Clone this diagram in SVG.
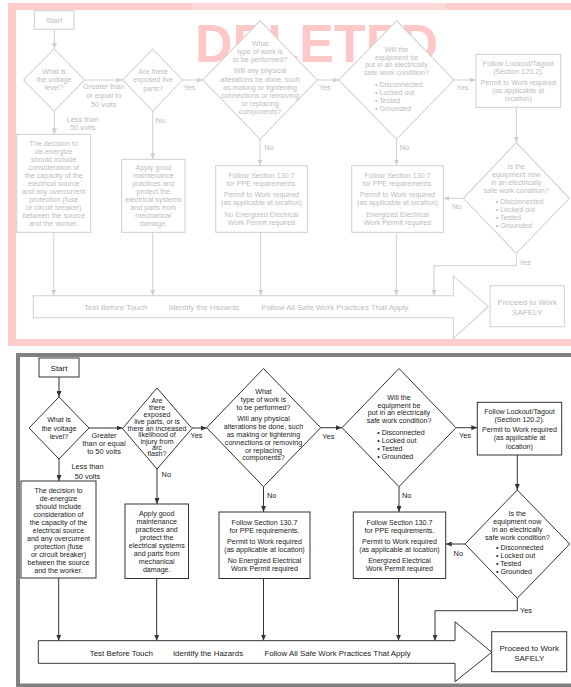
<svg xmlns="http://www.w3.org/2000/svg" width="571" height="687" viewBox="0 0 571 687">
<style>
.ln{fill:none;stroke:#333;stroke-width:1}
.bx{fill:#fff;stroke:#333;stroke-width:1}
.t{font-family:"Liberation Sans",Arial,Helvetica,sans-serif;font-size:7.1px;fill:#1a1a1a;text-anchor:middle}
.tl{text-anchor:start}
.lb{font-size:7.4px}
.big{font-size:7.9px}
.st{font-size:8px}
.old .ln{stroke:#cfcfcf}
.old .bx{stroke:#cfcfcf}
.old .t{fill:#bcbcbc}
</style>
<defs>
<marker id="ah" markerUnits="userSpaceOnUse" markerWidth="6" markerHeight="5" refX="6" refY="2.5" orient="auto"><path d="M0,0 L6,2.5 L0,5 Z" fill="#333"/></marker>
<marker id="ahOld" markerUnits="userSpaceOnUse" markerWidth="6" markerHeight="5" refX="6" refY="2.5" orient="auto"><path d="M0,0 L6,2.5 L0,5 Z" fill="#cfcfcf"/></marker>
</defs>
<rect width="571" height="687" fill="#fff"/>

<!-- DELETED overlay frame -->
<g id="deleted-frame">
<rect x="8" y="3" width="563" height="7" fill="#ffcccc"/>
<rect x="192" y="3" width="254" height="7" fill="#ffd9d9"/>
<rect x="8" y="3" width="8" height="343" fill="#ffcccc"/>
<rect x="8" y="339" width="563" height="7" fill="#ffcccc"/>
<text x="195" y="62" font-family="'Liberation Sans',Arial,sans-serif" font-weight="bold" font-size="54" fill="#ffc8c8" textLength="243" lengthAdjust="spacingAndGlyphs">DELETED</text>
</g>

<!-- Old (deleted) version -->
<g class="old" transform="matrix(1.006 0 0 1 -4.5 -347.5)">
<g id="old-connectors">
<path class="ln" d="M58.5,376.8 V396.5" marker-end="url(#ahOld)"/>
<path class="ln" d="M88.5,427.5 H126" marker-end="url(#ahOld)"/>
<path class="ln" d="M186,427.5 H206.2" marker-end="url(#ahOld)"/>
<path class="ln" d="M58.5,458.5 V481.8" marker-end="url(#ahOld)"/>
<path class="ln" d="M156.3,458.5 V506.8" marker-end="url(#ahOld)"/>
<path class="ln" d="M319.7,427.5 H341.4" marker-end="url(#ahOld)"/>
<path class="ln" d="M263,486.8 V513.2" marker-end="url(#ahOld)"/>
<path class="ln" d="M455.8,427.5 H477.6" marker-end="url(#ahOld)"/>
<path class="ln" d="M398.6,486.8 V513.2" marker-end="url(#ahOld)"/>
<path class="ln" d="M517.7,454.8 V490.2" marker-end="url(#ahOld)"/>
<path class="ln" d="M465,545.8 H445.2" marker-end="url(#ahOld)"/>
<path class="ln" d="M517.7,600.8 V613.2 H435.9 V643.2" marker-end="url(#ahOld)"/>
<path class="ln" d="M57.9,579.8 V643.2" marker-end="url(#ahOld)"/>
<path class="ln" d="M156.3,579.8 V643.2" marker-end="url(#ahOld)"/>
<path class="ln" d="M263.6,579.8 V643.2" marker-end="url(#ahOld)"/>
<path class="ln" d="M398.4,579.8 V643.2" marker-end="url(#ahOld)"/>
<text class="t lb"><tspan x="107.6" y="437">Greater than</tspan><tspan x="107.6" y="446">or equal to</tspan><tspan x="107.6" y="455">50 volts</tspan></text>
<text class="t lb"><tspan x="86.7" y="469.2">Less than</tspan><tspan x="86.7" y="478">50 volts</tspan></text>
<text class="t lb" x="192.6" y="438">Yes</text>
<text class="t lb" x="163.8" y="470.5">No</text>
<text class="t lb" x="327.5" y="438">Yes</text>
<text class="t lb" x="271.9" y="498">No</text>
<text class="t lb" x="464.4" y="438">Yes</text>
<text class="t lb" x="406.5" y="498">No</text>
<text class="t lb" x="458.5" y="556.5">No</text>
<text class="t lb" x="526.3" y="613">Yes</text>
</g>
<g id="old-start"><rect class="bx" x="38.6" y="358.2" width="39.4" height="18.6"/><text class="t st" x="58.3" y="370.3">Start</text></g>
<g id="old-voltage"><polygon class="bx" points="58.2,396.5 88.5,427.5 58.2,458.5 27.9,427.5"/>
<text class="t"><tspan x="58.2" y="421.8">What is</tspan><tspan x="58.2" y="429.8">the voltage</tspan><tspan x="58.2" y="437.8">level?</tspan></text></g>
<g id="old-exposed"><polygon class="bx" points="156.3,396.5 186,427.5 156.3,458.5 126.5,427.5"/>
<text class="t"><tspan x="156.6" y="421.8">Are there</tspan><tspan x="156.6" y="429.8">exposed live</tspan><tspan x="156.6" y="438.3">parts?</tspan></text></g>
<g id="old-deenergize"><rect class="bx" x="21.1" y="481.8" width="73.5" height="98"/>
<text class="t"><tspan x="57.9" y="493.8">The decision to</tspan><tspan x="57.9" y="501.7">de-energize</tspan><tspan x="57.9" y="509.7">should include</tspan><tspan x="57.9" y="517.6">consideration of</tspan><tspan x="57.9" y="525.5">the capacity of the</tspan><tspan x="57.9" y="533.5">electrical source</tspan><tspan x="57.9" y="541.4">and any overcurrent</tspan><tspan x="57.9" y="549.3">protection (fuse</tspan><tspan x="57.9" y="557.2">or circuit breaker)</tspan><tspan x="57.9" y="565.2">between the source</tspan><tspan x="57.9" y="573.1">and the worker.</tspan></text></g>
<g id="old-maintenance"><rect class="bx" x="125.4" y="506.8" width="63" height="73"/>
<text class="t"><tspan x="156.9" y="517.5">Apply good</tspan><tspan x="156.9" y="525.5">maintenance</tspan><tspan x="156.9" y="533.5">practices and</tspan><tspan x="156.9" y="541.5">protect the</tspan><tspan x="156.9" y="549.5">electrical systems</tspan><tspan x="156.9" y="557.5">and parts from</tspan><tspan x="156.9" y="565.5">mechanical</tspan><tspan x="156.9" y="573.5">damage.</tspan></text></g>
<g id="old-worktype"><polygon class="bx" points="263,368.2 319.7,427.5 263,486.8 206.2,427.5"/>
<text class="t"><tspan x="263" y="393.1">What</tspan><tspan x="263" y="401.5">type of work is</tspan><tspan x="263" y="409.8">to be performed?</tspan><tspan x="263" y="420.8">Will any physical</tspan><tspan x="263" y="429.8">alterations be done, such</tspan><tspan x="263" y="437.8">as making or tightening</tspan><tspan x="263" y="445.8">connections or removing</tspan><tspan x="263" y="453.1">or replacing</tspan><tspan x="263" y="461.1">components?</tspan></text></g>
<g id="old-ppe-no-permit"><rect class="bx" x="218.9" y="513.2" width="91.1" height="66.6"/>
<text class="t"><tspan x="264.4" y="525.5">Follow Section 130.7</tspan><tspan x="264.4" y="533.5">for PPE requirements.</tspan><tspan x="264.4" y="544.1">Permit to Work required</tspan><tspan x="264.4" y="552.5">(as applicable at location)</tspan><tspan x="264.4" y="564.1">No Energized Electrical</tspan><tspan x="264.4" y="572.1">Work Permit required</tspan></text></g>
<g id="old-safe-condition"><polygon class="bx" points="398.6,368.2 455.8,427.5 398.6,486.8 341.4,427.5"/>
<text class="t"><tspan x="398.6" y="399.1">Will the</tspan><tspan x="398.6" y="407.1">equipment be</tspan><tspan x="398.6" y="414.8">put in an electrically</tspan><tspan x="398.6" y="422.8">safe work condition?</tspan></text>
<text class="t tl"><tspan x="377.2" y="434.5">• Disconnected</tspan><tspan x="377.2" y="442.1">• Locked out</tspan><tspan x="377.2" y="450.1">• Tested</tspan><tspan x="377.2" y="458.1">• Grounded</tspan></text></g>
<g id="old-lockout"><rect class="bx" x="477.6" y="401.8" width="84.2" height="53"/>
<text class="t"><tspan x="519.7" y="413.1">Follow Lockout/Tagout</tspan><tspan x="519.7" y="421.1">(Section 120.2).</tspan><tspan x="519.7" y="432.8">Permit to Work required</tspan><tspan x="519.7" y="440.5">(as applicable at</tspan><tspan x="519.7" y="448.8">location)</tspan></text></g>
<g id="old-now-safe"><polygon class="bx" points="517.7,490.2 570.4,545.8 517.7,600.8 465,545.8"/>
<text class="t"><tspan x="517.7" y="516.5">Is the</tspan><tspan x="517.7" y="524.5">equipment now</tspan><tspan x="517.7" y="532.5">in an electrically</tspan><tspan x="517.7" y="540.5">safe work condition?</tspan></text>
<text class="t tl"><tspan x="497.2" y="551.1">• Disconnected</tspan><tspan x="497.2" y="559.1">• Locked out</tspan><tspan x="497.2" y="567.1">• Tested</tspan><tspan x="497.2" y="575.5">• Grounded</tspan></text></g>
<g id="old-ppe-permit"><rect class="bx" x="354.1" y="513.2" width="91.1" height="66.6"/>
<text class="t"><tspan x="399.6" y="525.5">Follow Section 130.7</tspan><tspan x="399.6" y="533.5">for PPE requirements.</tspan><tspan x="399.6" y="544.1">Permit to Work required</tspan><tspan x="399.6" y="552.5">(as applicable at location)</tspan><tspan x="399.6" y="564.1">Energized Electrical</tspan><tspan x="399.6" y="572.1">Work Permit required</tspan></text></g>
<g id="old-practices"><path class="bx" d="M37.6,643.2 H455.1 V623.5 L489.9,654.2 L455.1,685.8 V665.2 H37.6 Z"/>
<text class="t big" x="119.5" y="657.5">Test Before Touch</text>
<text class="t big" x="207.3" y="657.5">Identify the Hazards</text>
<text class="t big" x="337.5" y="657.5">Follow All Safe Work Practices That Apply</text></g>
<g id="old-proceed"><rect class="bx" x="491.6" y="633.2" width="73.8" height="41"/>
<text class="t st"><tspan x="528.5" y="652.9">Proceed to Work</tspan><tspan x="528.5" y="662.5">SAFELY</tspan></text></g>
</g>

<!-- Current version frame -->
<g id="frame">
<rect x="16" y="353" width="555" height="4" fill="#808080"/>
<rect x="16" y="353" width="4" height="334" fill="#808080"/>
<rect x="16" y="683.5" width="555" height="3.5" fill="#808080"/>
</g>

<g id="connectors">
<path class="ln" d="M59,377 V397" marker-end="url(#ah)"/>
<path class="ln" d="M89,428 H122.5" marker-end="url(#ah)"/>
<path class="ln" d="M192,428 H206.7" marker-end="url(#ah)"/>
<path class="ln" d="M59,459 V481" marker-end="url(#ah)"/>
<path class="ln" d="M157,469 V504" marker-end="url(#ah)"/>
<path class="ln" d="M320.7,427.7 H342" marker-end="url(#ah)"/>
<path class="ln" d="M263.5,486.7 V512" marker-end="url(#ah)"/>
<path class="ln" d="M456,427.7 H477.3" marker-end="url(#ah)"/>
<path class="ln" d="M399,486.7 V512" marker-end="url(#ah)"/>
<path class="ln" d="M517.3,455 V490" marker-end="url(#ah)"/>
<path class="ln" d="M465,544 H445.7" marker-end="url(#ah)"/>
<path class="ln" d="M517.3,598.3 V610.7 H435 V640.7" marker-end="url(#ah)"/>
<path class="ln" d="M58.7,578 V640.7" marker-end="url(#ah)"/>
<path class="ln" d="M156.7,578.5 V640.7" marker-end="url(#ah)"/>
<path class="ln" d="M263.5,578.5 V640.7" marker-end="url(#ah)"/>
<path class="ln" d="M398.5,578.5 V640.7" marker-end="url(#ah)"/>
<text class="t lb"><tspan x="104" y="437.5">Greater</tspan><tspan x="104" y="445.8">than or equal</tspan><tspan x="104" y="454.1">to 50 volts</tspan></text>
<text class="t lb"><tspan x="87.5" y="469">Less than</tspan><tspan x="87.5" y="478.5">50 volts</tspan></text>
<text class="t lb" x="196.5" y="438">Yes</text>
<text class="t lb" x="166.3" y="476.5">No</text>
<text class="t lb" x="328.3" y="438.5">Yes</text>
<text class="t lb" x="271.7" y="497.5">No</text>
<text class="t lb" x="465" y="437.5">Yes</text>
<text class="t lb" x="406.7" y="497.5">No</text>
<text class="t lb" x="458.3" y="555.8">No</text>
<text class="t lb" x="526" y="612.5">Yes</text>
</g>

<g id="start"><rect class="bx" x="39" y="358" width="40" height="19"/><text class="t st" x="59" y="370.8">Start</text></g>

<g id="voltage"><polygon class="bx" points="59,397 89,428 59,459 29,428"/>
<text class="t"><tspan x="59" y="422.3">What is</tspan><tspan x="59" y="430.5">the voltage</tspan><tspan x="59" y="438.8">level?</tspan></text></g>

<g id="exposed"><polygon class="bx" points="157,388 192,428.5 157,469 122.5,428.5"/>
<text class="t"><tspan x="157" y="403.3">Are</tspan><tspan x="157" y="410">there</tspan><tspan x="157" y="416.9">exposed</tspan><tspan x="157" y="423.8">live parts, or is</tspan><tspan x="157" y="430.6">there an increased</tspan><tspan x="157" y="437.4">likelihood of</tspan><tspan x="157" y="443.6">injury from</tspan><tspan x="157" y="449.7">arc</tspan><tspan x="157" y="456.3">flash?</tspan></text></g>

<g id="deenergize"><rect class="bx" x="21" y="481" width="75" height="97"/>
<text class="t"><tspan x="58.5" y="493">The decision to</tspan><tspan x="58.5" y="501">de-energize</tspan><tspan x="58.5" y="509">should include</tspan><tspan x="58.5" y="517">consideration of</tspan><tspan x="58.5" y="525">the capacity of the</tspan><tspan x="58.5" y="533">electrical source</tspan><tspan x="58.5" y="541">and any overcurrent</tspan><tspan x="58.5" y="549">protection (fuse</tspan><tspan x="58.5" y="557">or circuit breaker)</tspan><tspan x="58.5" y="565">between the source</tspan><tspan x="58.5" y="573">and the worker.</tspan></text></g>

<g id="maintenance"><rect class="bx" x="125" y="504" width="63.5" height="74.5"/>
<text class="t"><tspan x="156.7" y="516.3">Apply good</tspan><tspan x="156.7" y="524.3">maintenance</tspan><tspan x="156.7" y="532.3">practices and</tspan><tspan x="156.7" y="540.3">protect the</tspan><tspan x="156.7" y="548.3">electrical systems</tspan><tspan x="156.7" y="556.3">and parts from</tspan><tspan x="156.7" y="564.3">mechanical</tspan><tspan x="156.7" y="572.3">damage.</tspan></text></g>

<g id="worktype"><polygon class="bx" points="263.5,368.5 320.7,427.7 263.5,486.7 206.7,427.7"/>
<text class="t"><tspan x="263.5" y="394">What</tspan><tspan x="263.5" y="401.8">type of work is</tspan><tspan x="263.5" y="409.6">to be performed?</tspan><tspan x="263.5" y="421.4">Will any physical</tspan><tspan x="263.5" y="429.2">alterations be done, such</tspan><tspan x="263.5" y="437">as making or tightening</tspan><tspan x="263.5" y="444.8">connections or removing</tspan><tspan x="263.5" y="452.6">or replacing</tspan><tspan x="263.5" y="460.4">components?</tspan></text></g>

<g id="ppe-no-permit"><rect class="bx" x="219" y="512" width="91" height="66.5"/>
<text class="t"><tspan x="264.5" y="525">Follow Section 130.7</tspan><tspan x="264.5" y="533">for PPE requirements.</tspan><tspan x="264.5" y="544">Permit to Work required</tspan><tspan x="264.5" y="551.7">(as applicable at location)</tspan><tspan x="264.5" y="563">No Energized Electrical</tspan><tspan x="264.5" y="571">Work Permit required</tspan></text></g>

<g id="safe-condition"><polygon class="bx" points="399,368.5 456,427.7 399,486.7 342,427.7"/>
<text class="t"><tspan x="399" y="399.6">Will the</tspan><tspan x="399" y="407.5">equipment be</tspan><tspan x="399" y="415.4">put in an electrically</tspan><tspan x="399" y="423.3">safe work condition?</tspan></text>
<text class="t tl"><tspan x="377.3" y="435">• Disconnected</tspan><tspan x="377.3" y="443">• Locked out</tspan><tspan x="377.3" y="451">• Tested</tspan><tspan x="377.3" y="459">• Grounded</tspan></text></g>

<g id="lockout"><rect class="bx" x="477.3" y="402.3" width="84.4" height="52.7"/>
<text class="t"><tspan x="519.5" y="414">Follow Lockout/Tagout</tspan><tspan x="519.5" y="422.3">(Section 120.2).</tspan><tspan x="519.5" y="432.3">Permit to Work required</tspan><tspan x="519.5" y="440.3">(as applicable at</tspan><tspan x="519.5" y="449">location)</tspan></text></g>

<g id="now-safe"><polygon class="bx" points="517.3,490 569.7,544 517.3,598.3 465,544"/>
<text class="t"><tspan x="517.3" y="516.3">Is the</tspan><tspan x="517.3" y="524.3">equipment now</tspan><tspan x="517.3" y="532.3">in an electrically</tspan><tspan x="517.3" y="540.2">safe work condition?</tspan></text>
<text class="t tl"><tspan x="496" y="549.6">• Disconnected</tspan><tspan x="496" y="557.6">• Locked out</tspan><tspan x="496" y="565.6">• Tested</tspan><tspan x="496" y="573.6">• Grounded</tspan></text></g>

<g id="ppe-permit"><rect class="bx" x="353.3" y="512" width="92.4" height="66.5"/>
<text class="t"><tspan x="399.5" y="525">Follow Section 130.7</tspan><tspan x="399.5" y="533">for PPE requirements.</tspan><tspan x="399.5" y="544">Permit to Work required</tspan><tspan x="399.5" y="551.7">(as applicable at location)</tspan><tspan x="399.5" y="563">Energized Electrical</tspan><tspan x="399.5" y="571">Work Permit required</tspan></text></g>

<g id="practices"><path class="bx" d="M38.3,640.7 H455 V621.7 L491.7,652.3 L455,681.7 V663.3 H38.3 Z"/>
<text class="t big" x="121.3" y="656">Test Before Touch</text>
<text class="t big" x="208" y="656">Identify the Hazards</text>
<text class="t big" x="337.5" y="656">Follow All Safe Work Practices That Apply</text></g>

<g id="proceed"><rect class="bx" x="491.7" y="631.7" width="75" height="40"/>
<text class="t st"><tspan x="529.2" y="651.2">Proceed to Work</tspan><tspan x="529.2" y="660.6">SAFELY</tspan></text></g>
</svg>
